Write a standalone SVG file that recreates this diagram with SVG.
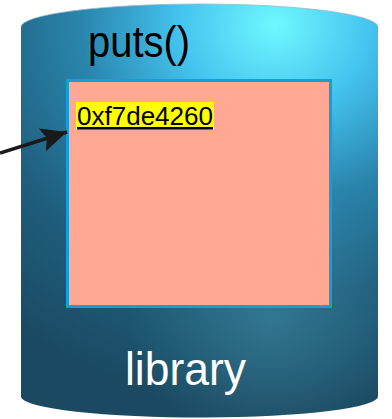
<svg xmlns="http://www.w3.org/2000/svg" width="392" height="419" viewBox="0 0 392 419">
<defs>
<radialGradient id="cyl" gradientUnits="userSpaceOnUse" cx="275" cy="25" r="430" gradientTransform="translate(275,25) scale(1,0.9) translate(-275,-25)">
<stop offset="0" stop-color="#6ff8ff"/>
<stop offset="0.22" stop-color="#44c4ef"/>
<stop offset="0.45" stop-color="#2a85ad"/>
<stop offset="0.7" stop-color="#1f5e7d"/>
<stop offset="1" stop-color="#1a4961"/>
</radialGradient>
<radialGradient id="glow" gradientUnits="userSpaceOnUse" cx="270" cy="320" r="140">
<stop offset="0" stop-color="#5fb8cc" stop-opacity="0.3"/>
<stop offset="1" stop-color="#5fb8cc" stop-opacity="0"/>
</radialGradient>
<marker id="ah" markerUnits="userSpaceOnUse" markerWidth="28" markerHeight="24" refX="26" refY="12" orient="auto">
<path d="M0,0 L26,12 L0,24 L5,12 Z" fill="#1a1a1a"/>
</marker>
</defs>
<style>
.t{font-family:"Liberation Sans",Arial,sans-serif}
</style>
<g id="library">
<path d="M21,27 A178.5,23 0 0 1 378,27 L378,396 A178.5,21 0 0 1 21,397 Z" fill="url(#cyl)"/>
<path d="M21,27 A178.5,23 0 0 1 378,27 L378,396 A178.5,21 0 0 1 21,397 Z" fill="url(#glow)"/>
<path d="M21,27 A178.5,23 0 0 1 378,27" fill="none" stroke="#9ab8c4" stroke-width="0.8"/>
<text class="t" x="88" y="57" font-size="45" fill="#000" textLength="102" lengthAdjust="spacingAndGlyphs">puts()</text>
<text class="t" x="125" y="385" font-size="47" fill="#fff" textLength="121" lengthAdjust="spacingAndGlyphs">library</text>
</g>
<g id="puts">
<rect x="67.5" y="80.5" width="263" height="226" fill="#ffa994" stroke="#169ddd" stroke-width="3"/>
<rect x="76" y="102" width="138" height="28" fill="#ffff00"/>
<text class="t" x="77" y="125" font-size="25.5" fill="#000" text-decoration="underline" textLength="136" lengthAdjust="spacingAndGlyphs">0xf7de4260</text>
</g>
<g id="connectors">
<line x1="0" y1="153" x2="67" y2="132" stroke="#1a1a1a" stroke-width="3.5" marker-end="url(#ah)"/>
</g>
</svg>
